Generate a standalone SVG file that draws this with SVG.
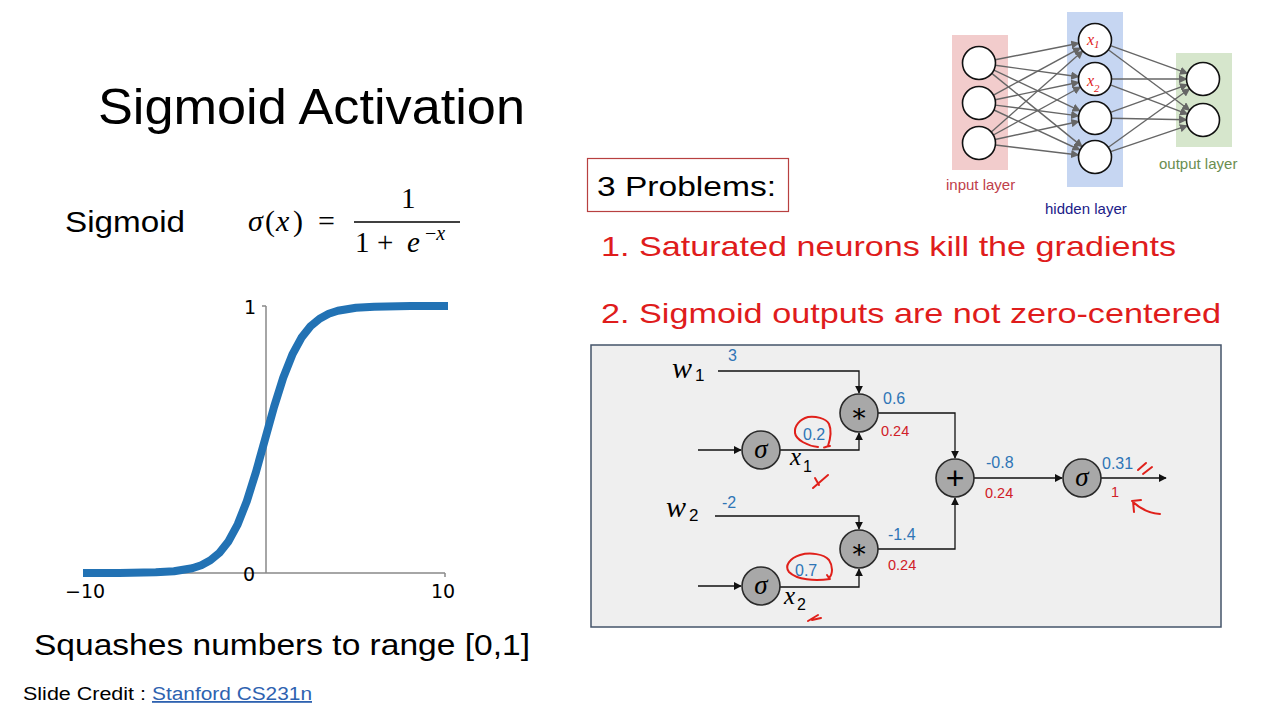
<svg xmlns="http://www.w3.org/2000/svg" width="1280" height="720" viewBox="0 0 1280 720">
<defs>
<style>
.sans{font-family:"Liberation Sans",Arial,sans-serif}
.math{font-family:"Liberation Serif","DejaVu Serif",serif;font-style:italic}
.mathr{font-family:"Liberation Serif","DejaVu Serif",serif}
.blue{fill:#2e75b6;font-family:"Liberation Sans",Arial,sans-serif;font-size:16px}
.red{fill:#d02028;font-family:"Liberation Sans",Arial,sans-serif;font-size:14.5px}
.nn-c{fill:#fff;stroke:#111;stroke-width:1.6}
.nn-e{stroke:#666;stroke-width:1.4;fill:none;marker-end:url(#ga)}
.cg{stroke:#111;stroke-width:1.3;fill:none;marker-end:url(#ba)}
.node{fill:#a8a8a8;stroke:#2a2a2a;stroke-width:1.6}
.ink{stroke:#e0201a;stroke-width:2;fill:none;stroke-linecap:round;stroke-linejoin:round}
</style>
<marker id="ga" viewBox="0 0 10 10" refX="9" refY="5" markerWidth="6" markerHeight="6" orient="auto"><path d="M0,0 L10,5 L0,10 z" fill="#666"/></marker>
<marker id="ba" viewBox="0 0 10 10" refX="9" refY="5" markerWidth="6" markerHeight="6" orient="auto"><path d="M0,0 L10,5 L0,10 z" fill="#111"/></marker>
</defs>
<rect width="1280" height="720" fill="#fff"/>

<g id="title"><text class="sans" x="98" y="124" font-size="50" textLength="427" lengthAdjust="spacingAndGlyphs">Sigmoid Activation</text></g>

<g id="formula">
<text class="sans" x="65" y="232" font-size="29" textLength="120" lengthAdjust="spacingAndGlyphs">Sigmoid</text>
<text class="math" x="248" y="231" font-size="30">σ</text>
<text class="mathr" x="265" y="231" font-size="30">(</text>
<text class="math" x="276" y="231" font-size="30">x</text>
<text class="mathr" x="293" y="231" font-size="30">)</text>
<text class="mathr" x="318" y="231" font-size="30">=</text>
<text class="mathr" x="401" y="208" font-size="29">1</text>
<line x1="354" y1="222" x2="460" y2="222" stroke="#000" stroke-width="1.6"/>
<text class="mathr" x="355" y="252" font-size="29">1</text>
<text class="mathr" x="377" y="252" font-size="29">+</text>
<text class="math" x="407" y="252" font-size="29">e</text>
<text class="mathr" x="425" y="240" font-size="20">−<tspan font-style="italic">x</tspan></text>
</g>

<g id="plot">
<line x1="266" y1="306" x2="266" y2="573" stroke="#888" stroke-width="1.5"/>
<line x1="262" y1="306" x2="266" y2="306" stroke="#888" stroke-width="1.5"/>
<line x1="83" y1="573" x2="445" y2="573" stroke="#888" stroke-width="1.5"/>
<line x1="445" y1="573" x2="445" y2="577" stroke="#888" stroke-width="1.5"/>
<polyline points="83,573 119.4,572.9 155.8,572.3 174,571.2 192.2,568.2 201.3,565.2 210.4,560.3 219.5,552.7 228.6,541.2 237.7,524.3 246.8,501.2 255.9,472.2 265,439.5 274.1,406.8 283.2,377.8 292.3,354.7 301.4,337.8 310.5,326.3 319.6,318.7 328.7,313.8 337.8,310.8 356,307.8 374.2,306.7 410.6,306.1 448,306" fill="none" stroke="#2272b4" stroke-width="8" stroke-linejoin="round"/>
<text font-family="DejaVu Sans,sans-serif" font-size="19" x="244" y="314">1</text>
<text font-family="DejaVu Sans,sans-serif" font-size="19" x="243" y="581">0</text>
<text font-family="DejaVu Sans,sans-serif" font-size="19" x="65" y="598">−10</text>
<text font-family="DejaVu Sans,sans-serif" font-size="19" x="431" y="598">10</text>
</g>

<g id="captions">
<text class="sans" x="34" y="655" font-size="29" textLength="496" lengthAdjust="spacingAndGlyphs">Squashes numbers to range [0,1]</text>
<text class="sans" x="23" y="700" font-size="18" textLength="123" lengthAdjust="spacingAndGlyphs">Slide Credit :</text>
<text class="sans" x="152" y="700" font-size="18" fill="#2e62b0" text-decoration="underline" textLength="160" lengthAdjust="spacingAndGlyphs">Stanford CS231n</text>
</g>

<g id="problems">
<rect x="587.5" y="158.5" width="201" height="53" fill="#fff" stroke="#b84040" stroke-width="1.2"/>
<text class="sans" x="597" y="196" font-size="27" textLength="179" lengthAdjust="spacingAndGlyphs">3 Problems:</text>
<text class="sans" x="601" y="256" font-size="28" fill="#df1c1c" textLength="575" lengthAdjust="spacingAndGlyphs">1. Saturated neurons kill the gradients</text>
<text class="sans" x="601" y="323" font-size="28" fill="#df1c1c" textLength="620" lengthAdjust="spacingAndGlyphs">2. Sigmoid outputs are not zero-centered</text>
</g>

<g id="nn">
<rect x="952" y="35" width="56" height="135" fill="#f2cccc"/>
<rect x="1067" y="12" width="56" height="175" fill="#c6d6f2"/>
<rect x="1176" y="53" width="56" height="94" fill="#d6e6cc"/>
<g id="nn-edges">
<line class="nn-e" x1="995.2" y1="59.8" x2="1078.8" y2="43.2"/>
<line class="nn-e" x1="995.3" y1="65.3" x2="1078.7" y2="76.7"/>
<line class="nn-e" x1="993.9" y1="70.1" x2="1080.1" y2="110.9"/>
<line class="nn-e" x1="991.8" y1="73.4" x2="1082.2" y2="146.6"/>
<line class="nn-e" x1="993.5" y1="95.1" x2="1080.5" y2="47.9"/>
<line class="nn-e" x1="995.2" y1="99.7" x2="1078.8" y2="82.3"/>
<line class="nn-e" x1="995.4" y1="105.1" x2="1078.6" y2="115.9"/>
<line class="nn-e" x1="994" y1="110" x2="1080" y2="150"/>
<line class="nn-e" x1="991.3" y1="132" x2="1082.7" y2="51"/>
<line class="nn-e" x1="993.4" y1="135" x2="1080.6" y2="87"/>
<line class="nn-e" x1="995.1" y1="139.5" x2="1078.9" y2="121.5"/>
<line class="nn-e" x1="995.4" y1="145" x2="1078.6" y2="155"/>
<line class="nn-e" x1="1110.5" y1="45.6" x2="1187.5" y2="73.4"/>
<line class="nn-e" x1="1108.3" y1="49.8" x2="1189.7" y2="110.2"/>
<line class="nn-e" x1="1111.5" y1="79" x2="1186.5" y2="79"/>
<line class="nn-e" x1="1110.4" y1="84.9" x2="1187.6" y2="114.1"/>
<line class="nn-e" x1="1110.5" y1="112.4" x2="1187.5" y2="84.6"/>
<line class="nn-e" x1="1111.5" y1="118.3" x2="1186.5" y2="119.7"/>
<line class="nn-e" x1="1108.4" y1="147.3" x2="1189.6" y2="88.7"/>
<line class="nn-e" x1="1110.6" y1="151.7" x2="1187.4" y2="125.7"/>
</g>
<circle class="nn-c" cx="979" cy="63" r="16.5"/>
<circle class="nn-c" cx="979" cy="103" r="16.5"/>
<circle class="nn-c" cx="979" cy="143" r="16.5"/>
<circle class="nn-c" cx="1095" cy="40" r="16.5"/>
<circle class="nn-c" cx="1095" cy="79" r="16.5"/>
<circle class="nn-c" cx="1095" cy="118" r="16.5"/>
<circle class="nn-c" cx="1095" cy="157" r="16.5"/>
<circle class="nn-c" cx="1203" cy="79" r="16.5"/>
<circle class="nn-c" cx="1203" cy="120" r="16.5"/>
<text font-family="Liberation Serif,serif" font-style="italic" font-size="16" fill="#e0201a" x="1087" y="45">x<tspan font-size="11" dy="3">1</tspan></text>
<text font-family="Liberation Serif,serif" font-style="italic" font-size="16" fill="#e0201a" x="1087" y="86">x<tspan font-size="11" dy="6">2</tspan></text>
<text class="sans" x="946" y="190" font-size="15" fill="#c0404a">input layer</text>
<text class="sans" x="1045" y="214" font-size="15" fill="#202088">hidden layer</text>
<text class="sans" x="1159" y="169" font-size="15" fill="#6a8e50">output layer</text>
</g>

<g id="graph-panel"><rect x="591" y="345" width="630" height="282" fill="#efefef" stroke="#44546a" stroke-width="1.5"/></g>

<g id="connectors">
<path class="cg" d="M718,371 H859 V393"/>
<path class="cg" d="M698,450 H741"/>
<path class="cg" d="M780,450 H859 V433"/>
<path class="cg" d="M878,413 H955 V458"/>
<path class="cg" d="M715,516 H859 V529"/>
<path class="cg" d="M698,586 H741"/>
<path class="cg" d="M780,587 H859 V569"/>
<path class="cg" d="M878,549 H955 V498"/>
<path class="cg" d="M974,478 H1062"/>
<path class="cg" d="M1101,478 H1166"/>
</g>

<g id="node-mul1"><circle class="node" cx="859" cy="413" r="19"/><text class="mathr" x="859" y="422" font-size="26" text-anchor="middle">∗</text></g>
<g id="node-mul2"><circle class="node" cx="859" cy="549" r="19"/><text class="mathr" x="859" y="558" font-size="26" text-anchor="middle">∗</text></g>
<g id="node-sig1"><circle class="node" cx="761" cy="450" r="19"/><text class="math" x="761" y="458" font-size="27" text-anchor="middle">σ</text></g>
<g id="node-sig2"><circle class="node" cx="761" cy="586" r="19"/><text class="math" x="761" y="594" font-size="27" text-anchor="middle">σ</text></g>
<g id="node-add"><circle class="node" cx="955" cy="478" r="19"/><text class="sans" x="955" y="489" font-size="32" text-anchor="middle">+</text></g>
<g id="node-sig3"><circle class="node" cx="1082" cy="478" r="19"/><text class="math" x="1082" y="486" font-size="27" text-anchor="middle">σ</text></g>

<g id="graph-labels">
<text class="math" x="672" y="378" font-size="30">w</text><text class="sans" x="695" y="381" font-size="17">1</text>
<text class="math" x="666" y="517" font-size="30">w</text><text class="sans" x="689" y="521" font-size="17">2</text>
<text class="math" x="790" y="465" font-size="25">x</text><text class="sans" x="803" y="472" font-size="16">1</text>
<text class="math" x="784" y="604" font-size="25">x</text><text class="sans" x="797" y="610" font-size="16">2</text>
<text class="blue" x="728" y="361">3</text>
<text class="blue" x="722" y="508">-2</text>
<text class="blue" x="803" y="440">0.2</text>
<text class="blue" x="795" y="576">0.7</text>
<text class="blue" x="883" y="404">0.6</text>
<text class="red" x="881" y="436">0.24</text>
<text class="blue" x="888" y="540">-1.4</text>
<text class="red" x="888" y="570">0.24</text>
<text class="blue" x="986" y="468">-0.8</text>
<text class="red" x="985" y="498">0.24</text>
<text class="blue" x="1102" y="469">0.31</text>
<text class="red" x="1111" y="497">1</text>
</g>

<g id="annotations">
<path class="ink" d="M818,447 C808,446 796,440 795,433 C794,426 800,419 808,417 C815,416 826,418 829,424 C832,431 830,440 828,446 C825,448 820,448 830,446"/>
<path class="ink" d="M830,579 C815,581 797,580 789,572 C784,566 790,558 800,555 C810,552 824,554 829,560 C833,566 833,574 829,578 L827,575"/>
<path class="ink" d="M815,478 L819,485 M813,488 L828,475"/>
<path class="ink" d="M808,621 L818,615 M812,620 L821,618"/>
<path class="ink" d="M1138,470 L1146,463 M1143,474 L1152,467"/>
<path class="ink" d="M1133,501 L1134,512 M1132,501 L1141,500 M1133,502 Q1145,513 1160,514"/>
</g>
</svg>
